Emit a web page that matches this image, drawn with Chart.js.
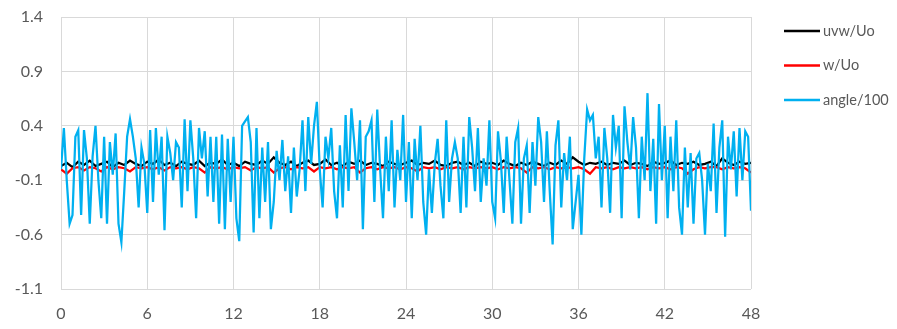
<!DOCTYPE html>
<html>
<head>
	<meta charset="utf-8">
	<title>uvw / w / angle</title>
	<style>
		html, body { margin: 0; padding: 0; background: #fff; }
		#wrap { width: 897px; height: 329px; position: relative; }
	</style>
</head>
<body>
	<div id="wrap">
		<canvas id="flowChart"></canvas>
	</div>

	<script src="https://cdn.jsdelivr.net/npm/chart.js@4.4.0/dist/chart.umd.min.js"></script>
	<script type="text/javascript">
		// tick labels
		const yTicks = [-1.1, -0.6, -0.1, 0.4, 0.9, 1.4];
		const xTicks = [0, 6, 12, 18, 24, 30, 36, 42, 48];

		// angle/100 sampled every 0.2
		const angleStep = 0.2;
		const angle100 = [
			0.0, 0.38, -0.1, -0.5, -0.42, 0.3, 0.36, -0.42, 0.36, 0.1,
			-0.5, 0.12, 0.4, -0.1, -0.45, 0.3, -0.5, 0.25, -0.05, 0.33,
			-0.5, -0.67, -0.2, 0.3, 0.46, 0.3, 0.1, -0.35, 0.2, 0.05,
			-0.4, 0.36, -0.3, 0.38, -0.05, 0.3, -0.56, 0.3, 0.15, -0.1,
			0.25, 0.2, -0.35, 0.46, -0.2, 0.45, 0.1, -0.45, 0.38, 0.1,
			0.35, -0.25, 0.3, -0.3, 0.3, -0.5, 0.32, -0.55, 0.28, -0.3,
			0.3, -0.45, -0.66, 0.4, 0.44, 0.48, 0.25, -0.58, 0.38, -0.45,
			0.2, -0.3, 0.25, -0.55, -0.3, 0.17, -0.1, 0.27, -0.2, 0.12,
			-0.4, 0.2, -0.25, 0.0, 0.45, -0.2, 0.48, 0.05, 0.4, 0.62,
			0.0, -0.35, 0.3, 0.1, 0.38, -0.2, -0.45, 0.22, -0.35, 0.5,
			-0.2, 0.56, 0.25, -0.1, 0.45, -0.55, 0.3, 0.35, 0.45, -0.3,
			0.55, 0.0, -0.45, 0.3, -0.2, 0.45, -0.35, 0.18, -0.1, 0.5,
			-0.3, 0.25, -0.45, 0.28, -0.1, 0.4, -0.3, -0.6, 0.0, -0.4,
			0.05, 0.28, -0.15, -0.45, 0.45, -0.3, 0.1, 0.25, 0.1, -0.4,
			0.3, -0.35, 0.48, 0.2, -0.2, 0.38, -0.3, 0.1, -0.15, 0.45,
			-0.3, -0.45, 0.35, 0.08, -0.4, 0.3, -0.1, -0.5, 0.25, 0.38,
			-0.5, 0.1, 0.22, -0.4, 0.25, -0.15, 0.48, 0.25, -0.3, 0.35,
			-0.2, -0.69, 0.22, 0.45, -0.35, 0.15, -0.1, 0.3, -0.55, -0.3,
			-0.05, -0.6, 0.1, 0.55, 0.45, 0.5, 0.1, 0.3, -0.35, 0.38,
			0.1, -0.4, 0.5, 0.2, 0.4, -0.45, 0.58, 0.25, 0.0, 0.48,
			0.2, -0.45, 0.3, -0.1, 0.7, -0.2, 0.28, -0.5, 0.6, -0.1,
			0.4, -0.45, 0.3, -0.2, 0.45, -0.35, -0.6, 0.2, -0.35, 0.15,
			-0.5, 0.1, 0.15, -0.1, -0.6, 0.05, -0.2, 0.42, -0.4, 0.2,
			0.45, -0.62, 0.3, 0.0, 0.35, -0.25, 0.38, -0.1, 0.35, 0.3,
			-0.38
		];

		// uvw/Uo and w/Uo sampled every 0.4
		const velStep = 0.4;
		const uvwUo = [
			0.03, 0.06, 0.02, 0.07, 0.04, 0.08, 0.03, 0.05, 0.07, 0.02, 0.06, 0.04, 0.08, 0.05, 0.03, 0.07, 0.05, 0.09, 0.04, 0.06,
			0.03, 0.07, 0.05, 0.04, 0.08, 0.03, 0.06, 0.05, 0.09, 0.04, 0.06, 0.03, 0.07, 0.05, 0.04, 0.08, 0.05, 0.11, 0.06, 0.04,
			0.07, 0.03, 0.06, 0.08, 0.04, 0.05, 0.09, 0.04, 0.06, 0.03, 0.07, 0.05, 0.08, 0.04, 0.06, 0.05, 0.03, 0.07, 0.05, 0.04,
			0.06, 0.08, 0.04, 0.06, 0.05, 0.08, 0.04, 0.03, 0.06, 0.07, 0.04, 0.06, 0.03, 0.07, 0.05, 0.06, 0.04, 0.08, 0.05, 0.03,
			0.06, 0.04, 0.07, 0.05, 0.03, 0.06, 0.04, 0.08, 0.05, 0.11, 0.07, 0.04, 0.06, 0.05, 0.07, 0.04, 0.06, 0.05, 0.08, 0.04,
			0.06, 0.05, 0.03, 0.07, 0.05, 0.06, 0.08, 0.04, 0.06, 0.05, 0.07, 0.04, 0.05, 0.07, 0.03, 0.1, 0.06, 0.04, 0.07, 0.05,
			0.06
		];
		const wUo = [
			0.0, -0.04, 0.01, 0.02, -0.01, 0.02, 0.01, -0.02, 0.02, 0.0, 0.02, 0.01, -0.02, 0.02, 0.01, 0.02, 0.0, 0.02, -0.01, 0.02,
			0.01, 0.02, 0.0, 0.02, 0.01, -0.03, 0.02, 0.01, 0.02, 0.0, 0.02, 0.01, 0.02, -0.01, 0.02, 0.01, 0.02, -0.03, 0.01, 0.02,
			0.0, 0.02, 0.01, 0.02, -0.02, 0.02, 0.01, 0.02, 0.0, 0.02, 0.01, 0.02, -0.03, 0.01, 0.02, 0.0, 0.02, 0.01, 0.02, 0.0,
			0.02, 0.01, -0.02, 0.02, 0.01, 0.02, 0.0, 0.02, 0.01, 0.02, 0.0, 0.02, 0.01, 0.02, 0.01, 0.02, 0.0, 0.02, 0.01, 0.02,
			0.01, -0.03, 0.02, 0.01, 0.02, 0.0, 0.02, 0.01, 0.02, 0.01, 0.02, 0.0, -0.04, 0.02, 0.01, 0.02, 0.0, 0.02, 0.01, 0.02,
			0.01, 0.02, 0.0, 0.02, 0.01, 0.02, 0.0, 0.02, 0.01, -0.04, 0.0, 0.02, 0.01, 0.02, 0.02, 0.0, 0.02, 0.01, 0.02, 0.01,
			-0.03
		];

		const toPoints = (arr, step) => arr.map((v, i) => ({ x: +(i * step).toFixed(2), y: v }));

		const textGrey = '#595959';
		const gridGrey = '#d9d9d9';
		const tickFont = { family: 'Lato, "Open Sans", sans-serif', size: 16 };

		// legend drawn at the right, Excel style (short line + label)
		const sideLegend = {
			id: 'sideLegend',
			afterDraw(chart) {
				const c = chart.ctx;
				c.save();
				c.font = '14.5px Lato, "Open Sans", sans-serif';
				c.fillStyle = textGrey;
				c.textBaseline = 'middle';
				chart.data.datasets.forEach((ds, i) => {
					const y = 31 + i * 34.5;
					c.strokeStyle = ds.borderColor;
					c.lineWidth = 2.5;
					c.beginPath();
					c.moveTo(784, y);
					c.lineTo(820, y);
					c.stroke();
					c.fillText(ds.label, 823, y);
				});
				c.restore();
			}
		};

		const ctx = document.getElementById('flowChart').getContext('2d');
		const chart = new Chart(ctx, {
			type: 'line',
			data: {
				datasets: [
					{
						label: 'uvw/Uo',
						data: toPoints(uvwUo, velStep),
						borderColor: '#000000',
						backgroundColor: '#000000',
						borderWidth: 2.25,
						pointRadius: 0,
						order: 2
					},
					{
						label: 'w/Uo',
						data: toPoints(wUo, velStep),
						borderColor: '#ff0000',
						backgroundColor: '#ff0000',
						borderWidth: 2.25,
						pointRadius: 0,
						order: 1
					},
					{
						label: 'angle/100',
						data: toPoints(angle100, angleStep),
						borderColor: '#00b0f0',
						backgroundColor: '#00b0f0',
						borderWidth: 2.25,
						pointRadius: 0,
						order: 0
					}
				]
			},
			options: {
				responsive: true,
				maintainAspectRatio: false,
				animation: false,
				layout: { padding: { top: 17, right: 146, left: 0, bottom: 0 } },
				plugins: {
					legend: { display: false },
					tooltip: { enabled: false }
				},
				scales: {
					x: {
						type: 'linear',
						min: 0,
						max: 48,
						afterBuildTicks: s => { s.ticks = xTicks.map(v => ({ value: v })); },
						afterFit: s => { s.height = 40; },
						ticks: {
							color: textGrey,
							font: tickFont,
							padding: 15,
							maxRotation: 0
						},
						grid: { color: gridGrey, lineWidth: 1, drawTicks: false },
						border: { display: false }
					},
					y: {
						min: -1.1,
						max: 1.4,
						afterBuildTicks: s => { s.ticks = yTicks.map(v => ({ value: v })); },
						afterFit: s => {
							s.width = 61;
							// labels are allowed to stick out above/below the plot
							s.paddingTop = 0;
							s.paddingBottom = 0;
						},
						ticks: {
							color: textGrey,
							font: tickFont,
							padding: 18,
							callback: v => v.toFixed(1)
						},
						grid: { color: gridGrey, lineWidth: 1, drawTicks: false },
						border: { display: false }
					}
				}
			},
			plugins: [sideLegend]
		});
	</script>
</body>
</html>
